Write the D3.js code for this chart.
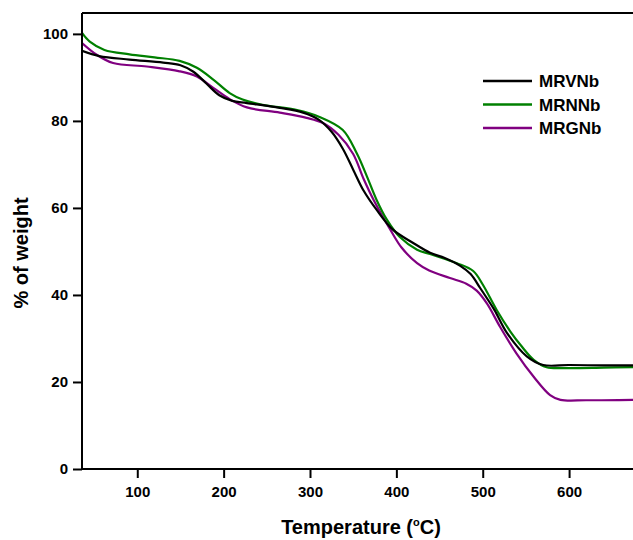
<!DOCTYPE html>
<html>
<head>
<meta charset="utf-8">
<script src="https://cdn.jsdelivr.net/npm/d3@7"></script>
<style>
  html, body { margin: 0; padding: 0; background: #fff; }
  svg { display: block; }
  text { font-family: "Liberation Sans", Arial, sans-serif; font-weight: bold; fill: #000; }
</style>
</head>
<body>
<svg id="chart" width="633" height="540"></svg>
<script>
// ---- data ----
const seriesNames = ["MRVNb", "MRNNb", "MRGNb"];
const seriesColors = ["#000000", "#008000", "#800080"];

const tempMRVNb = [36, 56, 91, 130, 150, 165, 180, 195, 210, 227, 265, 292, 310, 325, 338, 350, 362, 377, 396, 419, 439, 456, 474, 486, 497, 506, 514, 528, 551, 570, 600, 640, 674];
const wtMRVNb   = [96.1, 94.9, 94.1, 93.4, 92.8, 91.3, 88.6, 85.9, 84.6, 84.1, 83.0, 81.9, 80.3, 77.5, 73.6, 68.8, 64.0, 59.6, 55.0, 52.0, 49.7, 48.5, 46.7, 44.8, 41.6, 38.9, 36.4, 31.3, 25.9, 23.9, 23.9, 23.8, 23.8];

const tempMRNNb = [36, 45, 62, 91, 120, 149, 169, 188, 207, 222, 245, 285, 311, 338, 354, 366, 377, 389, 404, 424, 439, 470, 489, 500, 516, 532, 545, 559, 574, 597, 640, 674];
const wtMRNNb   = [100.2, 98.2, 96.3, 95.3, 94.6, 93.8, 92.2, 89.5, 86.4, 84.9, 83.7, 82.5, 80.9, 77.9, 72.6, 67.2, 61.9, 57.3, 53.3, 50.4, 49.4, 47.3, 45.5, 42.4, 36.6, 31.6, 28.2, 25.1, 23.4, 23.2, 23.3, 23.4];

const tempMRGNb = [36, 53, 72, 111, 149, 169, 188, 207, 227, 265, 296, 315, 333, 350, 362, 374, 393, 406, 424, 438, 462, 481, 493, 505, 520, 539, 559, 578, 590, 620, 674];
const wtMRGNb   = [97.9, 95.2, 93.3, 92.5, 91.4, 90.2, 87.6, 85.0, 83.1, 81.9, 80.7, 79.5, 76.8, 72.4, 66.7, 61.7, 55.0, 50.9, 47.3, 45.6, 43.9, 42.6, 41.0, 38.0, 32.7, 26.6, 21.2, 17.0, 15.9, 15.8, 15.9];

const xTicks = [100, 200, 300, 400, 500, 600];
const yTicks = [0, 20, 40, 60, 80, 100];
const xDomain = [36, 674];
const yDomain = [0, 104.8];

// ---- build ----
const series = [
  { name: seriesNames[0], color: seriesColors[0], t: tempMRVNb, w: wtMRVNb },
  { name: seriesNames[1], color: seriesColors[1], t: tempMRNNb, w: wtMRNNb },
  { name: seriesNames[2], color: seriesColors[2], t: tempMRGNb, w: wtMRGNb }
];

const svg = d3.select("#chart");
const pLeft = 82, pRight = 633, pTop = 13, pBottom = 469;

const x = d3.scaleLinear().domain(xDomain).range([pLeft, pRight]);
const y = d3.scaleLinear().domain(yDomain).range([pBottom, pTop]);

svg.append("defs").append("clipPath").attr("id", "clip")
  .append("rect").attr("x", pLeft).attr("y", pTop).attr("width", pRight - pLeft).attr("height", pBottom - pTop);

// top border
svg.append("line").attr("x1", pLeft).attr("x2", pRight).attr("y1", pTop).attr("y2", pTop)
  .attr("stroke", "#000").attr("stroke-width", 2);

// curves
const line = d3.line().x(d => x(d[0])).y(d => y(d[1])).curve(d3.curveCatmullRom.alpha(0.5));
const g = svg.append("g").attr("clip-path", "url(#clip)");
[series[2], series[1], series[0]].forEach(s => {
  g.append("path")
    .datum(s.t.map((t, i) => [t, s.w[i]]))
    .attr("d", line)
    .attr("fill", "none")
    .attr("stroke", s.color)
    .attr("stroke-width", 2.2)
    .attr("stroke-linejoin", "round");
});

// axes
const xAxis = d3.axisBottom(x).tickValues(xTicks).tickSize(9).tickPadding(8).tickSizeOuter(0);
const yAxis = d3.axisLeft(y).tickValues(yTicks).tickSize(9).tickPadding(5).tickSizeOuter(0);

const gx = svg.append("g").attr("transform", `translate(0,${pBottom})`).call(xAxis);
const gy = svg.append("g").attr("transform", `translate(${pLeft},0)`).call(yAxis);
[gx, gy].forEach(a => {
  a.select(".domain").attr("stroke", "#000").attr("stroke-width", 2);
  a.selectAll(".tick line").attr("stroke", "#000").attr("stroke-width", 2);
  a.selectAll(".tick text").style("font-size", "15px").style("font-weight", "bold")
    .style("font-family", '"Liberation Sans", Arial, sans-serif').attr("fill", "#000");
});
gx.select(".domain").attr("d", `M${pLeft},0H${pRight}`);
gy.select(".domain").attr("d", `M0,${pBottom}V${pTop}`);

// axis titles
const xt = svg.append("text").attr("x", 361).attr("y", 534).attr("text-anchor", "middle")
  .style("font-size", "20px");
xt.append("tspan").text("Temperature (");
xt.append("tspan").text("o").attr("dy", -8).style("font-size", "11px");
xt.append("tspan").text("C)").attr("dy", 8);

svg.append("text").attr("transform", "translate(28,253) rotate(-90)")
  .attr("text-anchor", "middle").style("font-size", "20px").text("% of weight");

// legend
const legY = [81, 104.5, 128];
series.forEach((s, i) => {
  svg.append("line").attr("x1", 483).attr("x2", 532).attr("y1", legY[i]).attr("y2", legY[i])
    .attr("stroke", s.color).attr("stroke-width", 2.5);
  svg.append("text").attr("x", 539).attr("y", legY[i] + 6).style("font-size", "17px").text(s.name);
});
</script>
</body>
</html>
